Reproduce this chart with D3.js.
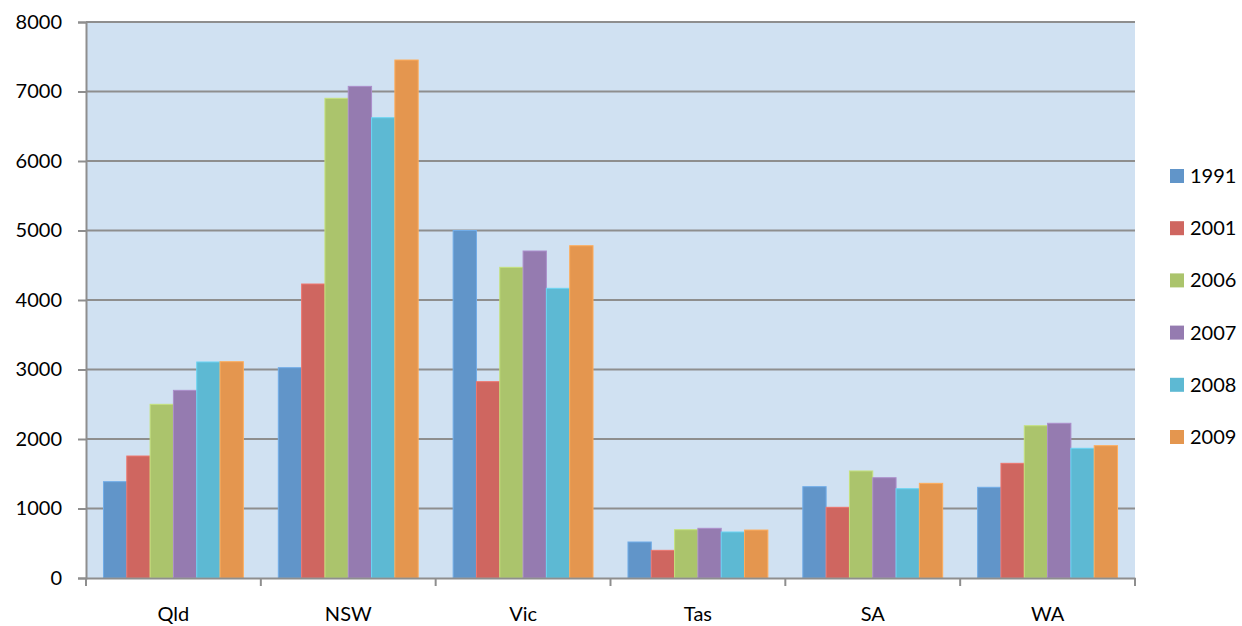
<!DOCTYPE html>
<html>
<head>
<meta charset="utf-8">
<script src="https://cdn.jsdelivr.net/npm/d3@7"></script>
<style>
  html, body { margin: 0; padding: 0; background: #ffffff; }
  svg { display: block; }
  text { font-family: Lato, "Open Sans", "Liberation Sans", sans-serif; fill: #000; }
</style>
</head>
<body>
<svg id="chart" width="1242" height="626"></svg>
<script>
const categories = ["Qld", "NSW", "Vic", "Tas", "SA", "WA"];
const seriesNames = ["1991", "2001", "2006", "2007", "2008", "2009"];
const values1991 = [1386, 3026, 5000, 518, 1314, 1305];
const values2001 = [1755, 4230, 2825, 398, 1017, 1650];
const values2006 = [2499, 6902, 4470, 695, 1540, 2191];
const values2007 = [2700, 7074, 4705, 715, 1443, 2226];
const values2008 = [3108, 6623, 4168, 662, 1285, 1866];
const values2009 = [3112, 7453, 4781, 690, 1362, 1904];
const yTicks = [0, 1000, 2000, 3000, 4000, 5000, 6000, 7000, 8000];
const colors = ["#6195C9", "#CF6660", "#ABC46C", "#957BB0", "#5DB9D3", "#E4964F"];

const seriesValues = [values1991, values2001, values2006, values2007, values2008, values2009];

const svg = d3.select("#chart");
const m = { left: 86, top: 22, right: 1135, bottom: 578 };
const FS = 20;

const x = d3.scaleBand().domain(categories).range([m.left, m.right]).paddingInner(0).paddingOuter(0);
const y = d3.scaleLinear().domain([0, 8000]).range([m.bottom, m.top]);

// plot background
svg.append("rect")
  .attr("x", m.left).attr("y", m.top)
  .attr("width", m.right - m.left).attr("height", m.bottom - m.top)
  .attr("fill", "#D0E1F2");

// gridlines
svg.append("g").selectAll("line").data(yTicks.filter(d => d > 0)).join("line")
  .attr("x1", m.left).attr("x2", m.right)
  .attr("y1", d => y(d)).attr("y2", d => y(d))
  .attr("stroke", "#8E8E8E").attr("stroke-width", 2);

// bars
const bandW = x.bandwidth();
const barW = bandW / (seriesNames.length + 1.5);
const groupPad = 0.75 * barW;
const inner = d3.scaleBand().domain(seriesNames).range([groupPad, bandW - groupPad]).padding(0);

const g = svg.append("g");
seriesNames.forEach((s, si) => {
  g.append("g").selectAll("rect").data(categories).join("rect")
    .attr("x", c => x(c) + inner(s))
    .attr("y", (c, i) => y(seriesValues[si][i]))
    .attr("width", inner.bandwidth())
    .attr("height", (c, i) => y(0) - y(seriesValues[si][i]))
    .attr("fill", colors[si])
    .attr("stroke", d3.color(colors[si]).brighter(0.4))
    .attr("stroke-width", 1);
});

// y axis
const yAxis = d3.axisLeft(y).tickValues(yTicks).tickSize(8).tickPadding(16).tickFormat(d3.format("d"));
const ya = svg.append("g").attr("transform", `translate(${m.left},0)`).call(yAxis);
ya.select(".domain").attr("stroke", "#8E8E8E").attr("stroke-width", 2);
ya.selectAll(".tick line").attr("stroke", "#8E8E8E").attr("stroke-width", 2);
ya.selectAll(".tick text").attr("font-size", FS).attr("font-family", "Lato, 'Open Sans', sans-serif").attr("fill", "#000");

// x axis
const xAxis = d3.axisBottom(x).tickSize(0).tickPadding(29);
const xa = svg.append("g").attr("transform", `translate(0,${m.bottom})`).call(xAxis);
xa.select(".domain").attr("stroke", "#8E8E8E").attr("stroke-width", 2);
xa.selectAll(".tick text").attr("font-size", FS).attr("font-family", "Lato, 'Open Sans', sans-serif").attr("fill", "#000");
// boundary tick marks between categories
const bounds = categories.map(c => x(c)).concat([m.right]);
xa.append("g").selectAll("line").data(bounds).join("line")
  .attr("x1", d => d).attr("x2", d => d)
  .attr("y1", 0).attr("y2", 8)
  .attr("stroke", "#8E8E8E").attr("stroke-width", 2);

// legend
const legY = d3.scalePoint().domain(seriesNames).range([176, 437]);
const leg = svg.append("g");
leg.selectAll("rect").data(seriesNames).join("rect")
  .attr("x", 1170).attr("y", d => legY(d) - 7)
  .attr("width", 14).attr("height", 14)
  .attr("fill", (d, i) => colors[i]);
leg.selectAll("text").data(seriesNames).join("text")
  .attr("x", 1190).attr("y", d => legY(d) + 7)
  .attr("font-size", FS)
  .text(d => d);
</script>
</body>
</html>
